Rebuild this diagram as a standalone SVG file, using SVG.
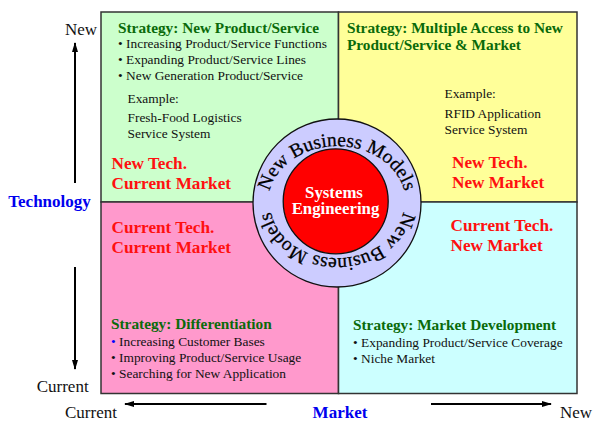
<svg xmlns="http://www.w3.org/2000/svg" width="594" height="421" viewBox="0 0 594 421">
<defs>
<style>
text{font-family:"Liberation Serif","Times New Roman",serif;}
.q{stroke:#333;stroke-width:1.5;}
.ttl{font-size:15.3px;font-weight:bold;fill:#0a6a0a;}
.b{font-size:13.4px;fill:#111;}
.tag{font-size:17.2px;font-weight:bold;fill:#ff1010;}
.ax{font-size:17px;fill:#111;}
.axb{font-size:17px;font-weight:bold;fill:#0000ee;}
.ring{font-size:19.5px;fill:#000;stroke:#000;stroke-width:0.25;}
.ctr{font-size:16.8px;font-weight:bold;fill:#fff;}
.arr{stroke:#000;stroke-width:2;fill:none;}
</style>
<marker id="ah" viewBox="0 0 10 6" refX="9" refY="3" markerWidth="10" markerHeight="6" markerUnits="userSpaceOnUse" orient="auto">
<path d="M0,0 L10,3 L0,6 Z" fill="#000"/>
</marker>
<path id="ringTop" d="M269.8,190.2 A69,57 0 0 1 404.2,190.2"/>
<path id="ringBot" d="M402.3,215.4 A67,55 0 0 1 271.7,215.4"/>
</defs>

<g id="q-new-tech-current-market">
<rect class="q" x="101" y="12" width="237.5" height="190" fill="#ccffcc"/>
<text class="ttl" x="118" y="33">Strategy: New Product/Service</text>
<text class="b" x="118" y="48">• Increasing Product/Service Functions</text>
<text class="b" x="118" y="64">• Expanding Product/Service Lines</text>
<text class="b" x="118" y="80">• New Generation Product/Service</text>
<text class="b" x="127.5" y="103">Example:</text>
<text class="b" x="127.5" y="122">Fresh-Food Logistics</text>
<text class="b" x="127.5" y="138">Service System</text>
<text class="tag" x="111.5" y="169">New Tech.</text>
<text class="tag" x="111.5" y="189">Current Market</text>
</g>

<g id="q-new-tech-new-market">
<rect class="q" x="338.5" y="12" width="238.5" height="190" fill="#ffff99"/>
<text class="ttl" x="347" y="33">Strategy: Multiple Access to New</text>
<text class="ttl" x="347" y="49.5">Product/Service &amp; Market</text>
<text class="b" x="444.5" y="98">Example:</text>
<text class="b" x="444.5" y="118">RFID Application</text>
<text class="b" x="444.5" y="134">Service System</text>
<text class="tag" x="452" y="168">New Tech.</text>
<text class="tag" x="452" y="188">New Market</text>
</g>

<g id="q-current-tech-current-market">
<rect class="q" x="101" y="202" width="237.5" height="191.5" fill="#ff99cc"/>
<text class="tag" x="111.5" y="232.5">Current Tech.</text>
<text class="tag" x="111.5" y="253">Current Market</text>
<text class="ttl" x="111" y="328.5">Strategy: Differentiation</text>
<text class="b" x="111" y="345.5"><tspan fill="#0000ff">•</tspan> Increasing Customer Bases</text>
<text class="b" x="111" y="361.5">• Improving Product/Service Usage</text>
<text class="b" x="111" y="377.5">• Searching for New Application</text>
</g>

<g id="q-current-tech-new-market">
<rect class="q" x="338.5" y="202" width="238.5" height="191.5" fill="#ccffff"/>
<text class="tag" x="450.5" y="230.5">Current Tech.</text>
<text class="tag" x="450.5" y="250.5">New Market</text>
<text class="ttl" x="353" y="330">Strategy: Market Development</text>
<text class="b" x="353" y="346.5">• Expanding Product/Service Coverage</text>
<text class="b" x="353" y="362.5">• Niche Market</text>
</g>

<g id="new-business-models">
<circle cx="337" cy="203" r="84" fill="#ccccff" stroke="#111" stroke-width="1.3"/>
<text class="ring"><textPath href="#ringTop" startOffset="50%" text-anchor="middle">New Business Models</textPath></text>
<text class="ring"><textPath href="#ringBot" startOffset="50%" text-anchor="middle">New Business Models</textPath></text>
</g>

<g id="systems-engineering">
<circle cx="335.7" cy="201.3" r="52.5" fill="#ff0000" stroke="#111" stroke-width="1.3"/>
<text class="ctr" x="334" y="198" text-anchor="middle">Systems</text>
<text class="ctr" x="335.5" y="214" text-anchor="middle">Engineering</text>
</g>

<g id="axis-labels">
<text class="ax" x="65" y="35">New</text>
<text class="axb" x="8.3" y="207">Technology</text>
<text class="ax" x="36.7" y="392">Current</text>
<text class="ax" x="65" y="418">Current</text>
<text class="axb" x="340" y="418" text-anchor="middle">Market</text>
<text class="ax" x="560" y="417.5">New</text>
</g>

<g id="connectors">
<line class="arr" x1="75" y1="183" x2="75" y2="43" marker-end="url(#ah)"/>
<line class="arr" x1="75" y1="267" x2="75" y2="369" marker-end="url(#ah)"/>
<line class="arr" x1="266.5" y1="404" x2="125" y2="404" marker-end="url(#ah)"/>
<line class="arr" x1="431" y1="404" x2="551" y2="404" marker-end="url(#ah)"/>
</g>
</svg>
